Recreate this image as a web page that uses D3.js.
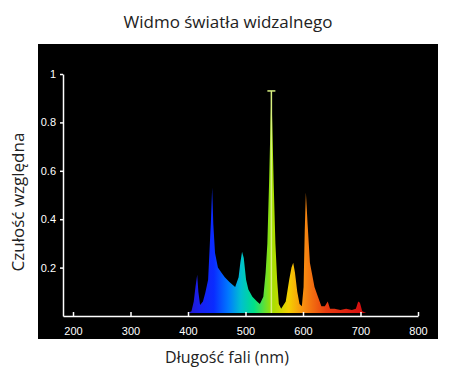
<!DOCTYPE html>
<html>
  <head>
    <meta charset="utf-8">
    <title>Widmo światła widzalnego</title>
    <style>
      body { margin: 0; background-color: #fff; font-family: "Open Sans", "Noto Sans", sans-serif; }
      svg { display: block; }
      .tick text { fill: #fff; font-size: 11px; }
      .domain, .tick line { stroke: #fff; stroke-width: 1.5; }
    </style>
    <script src="https://cdnjs.cloudflare.com/ajax/libs/d3/7.8.5/d3.min.js"></script>
  </head>
  <body>
    <div id="chart"></div>
    <script>
      // wavelength (nm) -> relative sensitivity
      var wavelengths = [400, 406, 410, 413, 416, 418, 421, 426, 430, 435, 438, 440, 442, 444, 447, 452, 458, 464, 472, 482,
                         488, 491, 494, 497, 501, 505, 512, 520, 525, 531, 535, 538, 541, 543.5, 545, 546.5, 549, 552, 555, 558,
                         562, 570, 576, 580, 583, 586, 590, 594, 598, 601, 603, 605, 608, 612, 616, 620, 626, 632, 638, 643,
                         647, 655, 665, 675, 685, 692, 696, 699, 703, 710, 720, 725];
      var values = [0, 0.02, 0.06, 0.12, 0.17, 0.10, 0.045, 0.06, 0.095, 0.15, 0.30, 0.40, 0.53, 0.38, 0.26, 0.20, 0.18, 0.16, 0.14, 0.12,
                    0.16, 0.22, 0.265, 0.24, 0.15, 0.11, 0.08, 0.06, 0.05, 0.08, 0.18, 0.30, 0.55, 0.80, 0.92, 0.80, 0.55, 0.30, 0.15, 0.05,
                    0.03, 0.06, 0.15, 0.20, 0.22, 0.18, 0.10, 0.05, 0.04, 0.12, 0.35, 0.51, 0.38, 0.22, 0.17, 0.12, 0.08, 0.04, 0.04, 0.06,
                    0.03, 0.03, 0.025, 0.03, 0.025, 0.03, 0.06, 0.055, 0.02, 0.01, 0.005, 0];
      // mercury line marker
      var markLine = { wavelength: 545, value: 0.93 };

      var xTicks = [200, 300, 400, 500, 600, 700, 800];
      var yTicks = [0.2, 0.4, 0.6, 0.8, 1];

      // colour of the light at each wavelength
      var colorStops = [
        { w: 400, c: "#2418c8" }, { w: 420, c: "#1820f0" }, { w: 445, c: "#0a2cff" }, { w: 470, c: "#0078ff" },
        { w: 492, c: "#00c0d0" }, { w: 515, c: "#00e088" }, { w: 545, c: "#a0e000" }, { w: 575, c: "#f4d000" },
        { w: 600, c: "#f89010" }, { w: 640, c: "#e83c10" }, { w: 700, c: "#d81010" }, { w: 730, c: "#900808" }
      ];

      var width = 450, height = 380;
      var svg = d3.select("#chart").append("svg").attr("width", width).attr("height", height);

      var x = d3.scaleLinear().domain([182.6, 800]).range([63, 418]);
      var y = d3.scaleLinear().domain([0, 1]).range([316, 74]);

      svg.append("rect").attr("x", 38).attr("y", 44).attr("width", 400).attr("height", 295).attr("fill", "#000");

      var grad = svg.append("defs").append("linearGradient")
        .attr("id", "spectrum").attr("gradientUnits", "userSpaceOnUse")
        .attr("x1", x(400)).attr("x2", x(730)).attr("y1", 0).attr("y2", 0);
      grad.selectAll("stop").data(colorStops).join("stop")
        .attr("offset", function(d) { return (x(d.w) - x(400)) / (x(730) - x(400)); })
        .attr("stop-color", function(d) { return d.c; });

      var pts = wavelengths.map(function(w, i) { return [w, values[i]]; });
      var area = d3.area()
        .x(function(d) { return x(d[0]); })
        .y0(y(0) - 3)
        .y1(function(d) { return Math.min(y(d[1]), y(0) - 3); });
      svg.append("path").datum(pts).attr("d", area).attr("fill", "url(#spectrum)");

      // vertical marker line with a cap
      svg.append("line")
        .attr("x1", x(markLine.wavelength)).attr("x2", x(markLine.wavelength))
        .attr("y1", y(0) - 3).attr("y2", y(markLine.value))
        .attr("stroke", "#d8f080").attr("stroke-width", 1.5);
      svg.append("line")
        .attr("x1", x(markLine.wavelength) - 4).attr("x2", x(markLine.wavelength) + 4)
        .attr("y1", y(markLine.value)).attr("y2", y(markLine.value))
        .attr("stroke", "#d8f080").attr("stroke-width", 1.5);

      svg.append("g").attr("transform", "translate(0," + y(0) + ")")
        .call(d3.axisBottom(x).tickValues(xTicks).tickSizeInner(-4).tickSizeOuter(0).tickPadding(11).tickFormat(d3.format("d")));

      svg.append("g").attr("transform", "translate(" + x(182.6) + ",0)")
        .call(d3.axisLeft(y).tickValues(yTicks).tickSizeInner(3).tickSizeOuter(0).tickPadding(4).tickFormat(function(d) { return String(d); }));

      svg.append("text").attr("x", 228).attr("y", 28).attr("text-anchor", "middle")
        .attr("font-size", 17).attr("fill", "#222").text("Widmo światła widzalnego");

      svg.append("text").attr("x", 227).attr("y", 363).attr("text-anchor", "middle")
        .attr("font-size", 16).attr("fill", "#222").text("Długość fali (nm)");

      svg.append("text").attr("transform", "translate(24,202) rotate(-90)").attr("text-anchor", "middle")
        .attr("font-size", 17).attr("fill", "#222").text("Czułość względna");
    </script>
  </body>
</html>
